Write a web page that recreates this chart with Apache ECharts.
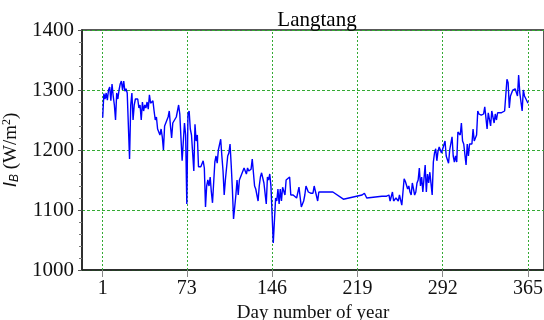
<!DOCTYPE html>
<html><head><meta charset="utf-8">
<script src="https://cdn.jsdelivr.net/npm/echarts@6/dist/echarts.min.js"></script>
<style>html,body{margin:0;padding:0;background:#fff}#c{width:544px;height:320px}</style>
</head><body><div id="c"></div>
<script>
const xTicks = [1, 73, 146, 219, 292, 365];
const days = [1,2,3,4,5,6,7,8,9,10,11,12,13,14,15,16,17,18,19,20,21,22,24,25,26,27,28,29,31,32,33,34,35,36,37,38,39,40,41,42,43,44,45,46,47,48,50,51,52,53,54,55,57,58,59,60,61,62,64,65,66,67,68,69,71,72,73,74,75,76,77,78,79,80,81,82,83,84,85,87,88,89,90,91,92,93,94,95,97,98,99,100,102,103,104,105,106,108,109,110,111,112,113,115,116,117,118,119,120,121,122,123,124,125,126,128,129,130,131,132,134,135,136,137,138,139,141,142,143,144,145,146,147,149,150,151,152,153,154,155,157,158,159,161,162,164,167,168,169,171,172,173,174,175,177,179,181,182,185,186,198,207,223,225,227,240,244,246,247,249,250,252,254,255,257,258,259,260,262,263,264,265,266,268,269,270,271,272,273,274,275,277,278,279,280,281,283,284,285,286,287,288,289,291,294,295,297,298,300,301,302,303,304,305,307,308,309,310,312,313,314,315,317,318,319,321,322,323,324,325,327,328,330,331,332,333,334,336,337,338,339,340,342,345,347,348,349,350,352,354,356,357,358,360,361,362,365];
const values = [1254,1294,1285,1295,1283,1300,1305,1282,1310,1290,1275,1250,1295,1285,1300,1310,1315,1300,1315,1298,1302,1295,1185,1275,1295,1250,1275,1285,1285,1270,1275,1250,1280,1265,1275,1270,1280,1268,1292,1278,1280,1282,1265,1250,1255,1235,1225,1235,1222,1200,1240,1245,1255,1265,1240,1220,1245,1245,1255,1265,1275,1260,1220,1182,1245,1225,1110,1260,1265,1235,1225,1195,1165,1243,1215,1225,1172,1175,1172,1182,1170,1105,1140,1150,1140,1155,1130,1112,1180,1190,1178,1200,1218,1190,1165,1125,1150,1190,1195,1210,1175,1135,1085,1125,1150,1125,1150,1155,1160,1165,1170,1165,1160,1170,1165,1168,1185,1185,1140,1135,1115,1140,1155,1162,1160,1145,1110,1155,1150,1160,1140,1140,1045,1120,1115,1135,1110,1135,1115,1138,1125,1150,1150,1155,1125,1125,1120,1120,1138,1105,1110,1115,1125,1140,1130,1128,1128,1140,1115,1130,1130,1118,1125,1128,1120,1123,1123,1125,1115,1130,1115,1120,1115,1125,1108,1130,1152,1148,1135,1140,1130,1125,1145,1125,1130,1145,1150,1170,1140,1155,1130,1175,1130,1160,1145,1163,1125,1180,1195,1202,1182,1198,1205,1195,1215,1190,1178,1200,1222,1190,1180,1190,1180,1230,1225,1245,1215,1210,1175,1210,1190,1210,1210,1235,1215,1225,1265,1260,1262,1258,1260,1272,1235,1262,1263,1240,1265,1245,1260,1250,1262,1265,1262,1265,1318,1312,1270,1290,1300,1302,1290,1325,1295,1265,1300,1290,1278];
const yTicks = [1000, 1100, 1200, 1300, 1400];

const seriesData = days.map((d, i) => [d, values[i]]);
const serif = 'Liberation Serif';
const gridGreen = '#33aa33';
const chart = echarts.init(document.getElementById('c'), null, {renderer: 'canvas'});
chart.setOption({
  animation: false,
  title: {
    text: 'Langtang', left: 312, top: 5, textAlign: 'center',
    textStyle: {fontFamily: serif, fontSize: 21, fontWeight: 'normal', color: '#000'}
  },
  grid: {left: 82, right: 0, top: 30, bottom: 50, outerBoundsMode: 'none', containLabel: false,
    show: true, borderColor: '#222', borderWidth: 1.5, backgroundColor: 'transparent'},
  xAxis: {
    type: 'value', min: -16.7, max: 378.7,
    name: 'Day number of year', nameLocation: 'middle', nameGap: 28,
    nameTextStyle: {fontFamily: serif, fontSize: 19, color: '#111'},
    axisLine: {onZero: false, lineStyle: {color: '#222', width: 1.5}},
    axisTick: {show: true, length: 7, lineStyle: {color: '#888'}, customValues: xTicks},
    axisLabel: {customValues: xTicks, fontFamily: serif, fontSize: 20, color: '#111', margin: 9},
    splitLine: {show: false}
  },
  yAxis: {
    type: 'value', min: 1000, max: 1400, interval: 100,
    name: '{i|I}{sub|B}{t| (W/m}{sup|2}{t|)}', nameLocation: 'middle', nameGap: 56,
    nameTextStyle: {
      fontFamily: serif, fontSize: 19, color: '#111', padding: [0, 0, 0, 0],
      rich: {
        i: {fontFamily: 'Liberation Sans', fontStyle: 'italic', fontSize: 19, color: '#111'},
        sub: {fontFamily: 'Liberation Sans', fontStyle: 'italic', fontSize: 12, verticalAlign: 'bottom', padding: [8, 0, 0, 0], color: '#111'},
        t: {fontFamily: serif, fontSize: 19, color: '#111'},
        sup: {fontFamily: serif, fontSize: 12, verticalAlign: 'top', padding: [0, 0, 8, 0], color: '#111'}
      }
    },
    axisLine: {show: true, onZero: false, lineStyle: {color: '#222', width: 1.5}},
    axisTick: {show: true, length: 4, lineStyle: {color: '#555'}},
    minorTick: {show: true, splitNumber: 5, length: 3, lineStyle: {color: '#777'}},
    axisLabel: {fontFamily: serif, fontSize: 21, color: '#111', margin: 8, formatter: v => String(v)},
    splitLine: {show: true, lineStyle: {color: gridGreen, type: [3, 2], width: 1}}
  },
  series: [{
    type: 'line', data: seriesData, showSymbol: false, symbol: 'none',
    lineStyle: {color: '#0000ff', width: 1.4},
    markLine: {
      silent: true, symbol: 'none', label: {show: false},
      lineStyle: {color: gridGreen, type: [2, 2], width: 1},
      data: xTicks.map(v => ({xAxis: v}))
    },
    z: 5
  }]
});
</script></body></html>
